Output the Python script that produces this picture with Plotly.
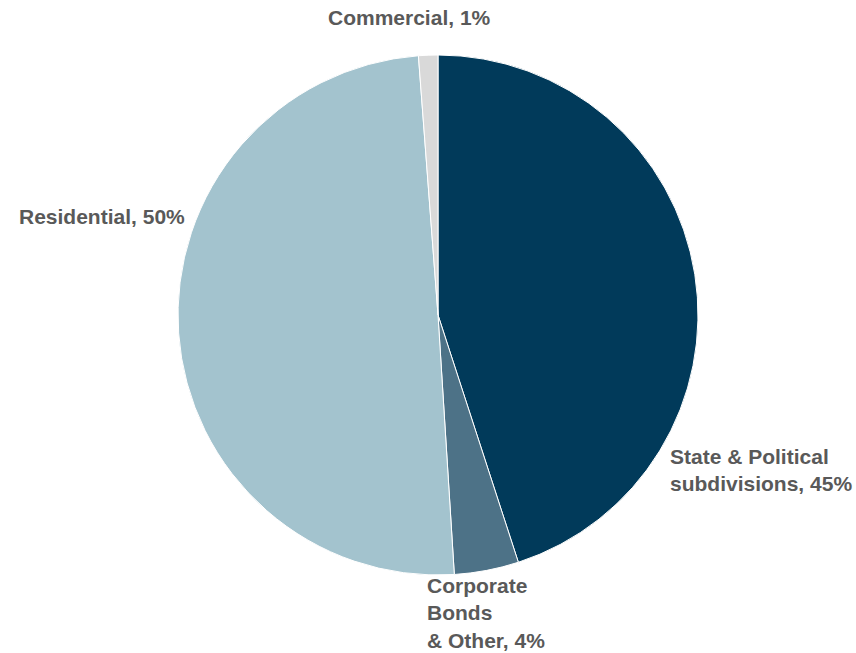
import plotly.graph_objects as go

categories = ["State & Political subdivisions", "Corporate Bonds & Other", "Residential", "Commercial"]
values = [45.0, 4.0, 49.8, 1.2]
label_texts = ["State & Political<br>subdivisions, 45%", "Corporate<br>Bonds<br>& Other, 4%",
               "Residential, 50%", "Commercial, 1%"]
colors = ["#013A5A", "#4D7287", "#A3C3CE", "#D9D9D9"]

W, H = 856, 653
fig = go.Figure(go.Pie(
    labels=categories, values=values, sort=False, direction="clockwise", rotation=0,
    marker=dict(colors=colors, line=dict(color="white", width=1)),
    textinfo="none", hoverinfo="label+percent", showlegend=False,
    domain=dict(x=[178 / W, 698 / W], y=[1 - 575 / H, 1 - 55 / H]),
))

# label placements (pixels): x, y, xanchor
label_pos = [(668, 470, "left"), (425, 613, "left"), (187, 216, "right"), (409, 17, "center")]
for txt, (px, py, xa) in zip(label_texts, label_pos):
    fig.add_annotation(x=px / W, y=1 - py / H, xref="paper", yref="paper",
                       text="<b>" + txt.replace("<br>", "</b><br><b>") + "</b>",
                       showarrow=False, xanchor=xa, yanchor="middle", align="left",
                       font=dict(family="Liberation Sans, Arial, sans-serif", size=21, color="#595959"))

fig.update_layout(width=W, height=H, margin=dict(l=0, r=0, t=0, b=0),
                  paper_bgcolor="white", plot_bgcolor="white",
                  font=dict(family="Liberation Sans, Arial, sans-serif"))
fig.write_html("out.html")
